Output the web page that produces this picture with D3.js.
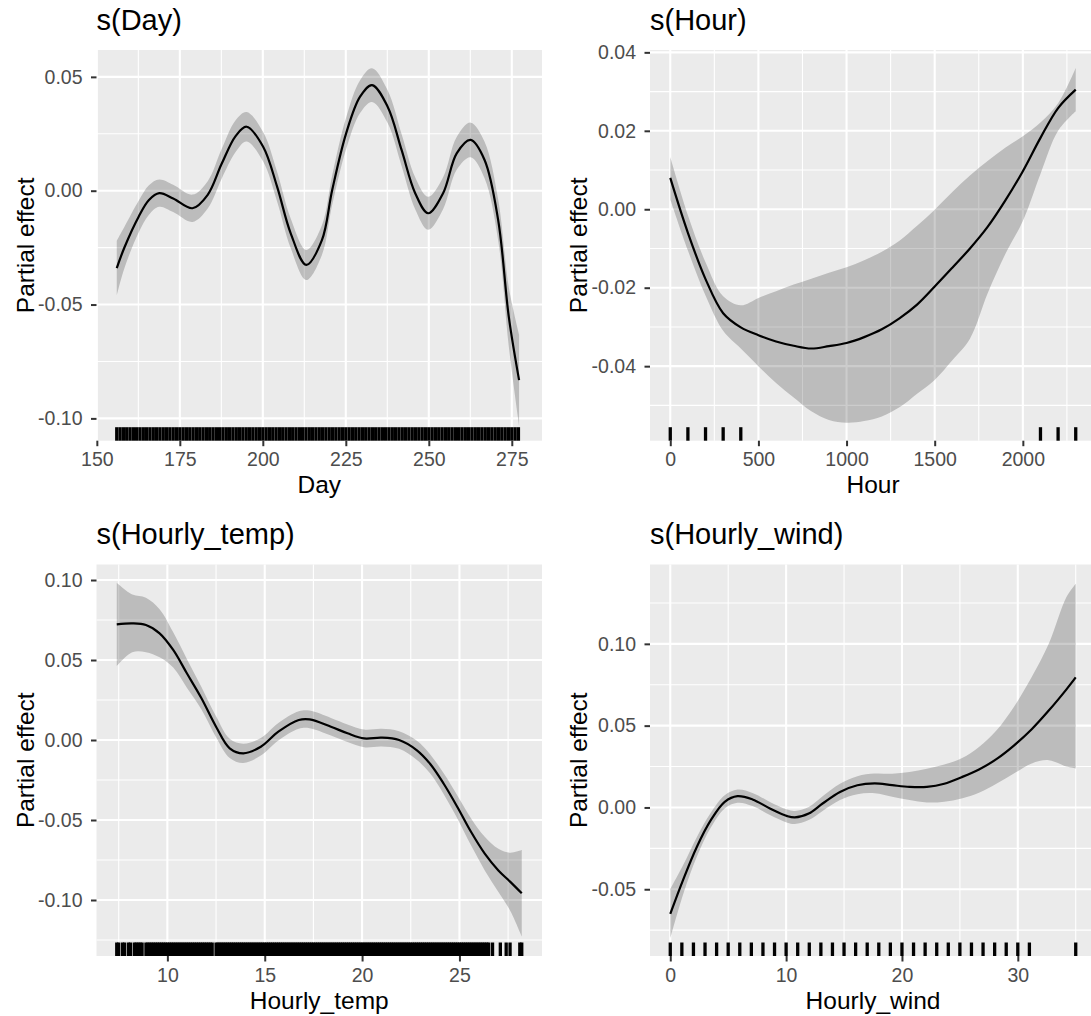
<!DOCTYPE html>
<html>
<head>
<meta charset="utf-8">
<script src="https://cdn.jsdelivr.net/npm/d3@7"></script>
<style>
  body {margin:0; background:#fff;}
  svg text {font-family: "Liberation Sans", Arial, Helvetica, sans-serif;}
</style>
</head>
<body>
<svg width="1091" height="1016"></svg>
<script>
// ---- s(Day) ----
var dayX   = [156, 158.4, 162.6, 165.7, 168.8, 173, 178.8, 183.4, 187.6, 191.8, 195.1, 200.1, 204.3, 208.4, 213.1, 217.8, 220.9, 225.1, 229.3, 232.9, 237.6, 241.8, 245.9, 249.8, 254.3, 258.4, 262.6, 266.8, 270.9, 274.1, 277.2];
var dayFit = [-0.034, -0.0246, -0.0114, -0.0041, -0.0011, -0.0034, -0.0077, -0.0018, 0.0118, 0.0240, 0.0281, 0.0193, 0.0018, -0.0187, -0.0326, -0.0217, 0.0003, 0.0252, 0.0413, 0.0464, 0.0369, 0.0179, -0.0011, -0.0099, -0.0011, 0.0164, 0.0223, 0.0135, -0.0129, -0.0554, -0.0832];
var dayCI  = [0.012, 0.009, 0.007, 0.0065, 0.006, 0.006, 0.006, 0.006, 0.0065, 0.007, 0.0065, 0.0065, 0.0065, 0.0065, 0.0066, 0.0065, 0.0065, 0.007, 0.0072, 0.0074, 0.0072, 0.007, 0.007, 0.0072, 0.007, 0.0072, 0.0076, 0.008, 0.009, 0.013, 0.02];
var dayRugRuns = [[156, 277]];
var dayXTicks = [150, 175, 200, 225, 250, 275];
var dayYTicks = [0.05, 0, -0.05, -0.10];

// ---- s(Hour) ----
var hourX     = [0, 100, 200, 300, 400, 500, 600, 700, 800, 900, 1000, 1100, 1200, 1300, 1400, 1500, 1600, 1700, 1800, 1900, 2000, 2100, 2200, 2300];
var hourFit   = [0.008, -0.006, -0.0178, -0.0265, -0.0301, -0.0321, -0.0337, -0.0348, -0.0355, -0.0349, -0.0341, -0.0326, -0.0306, -0.0278, -0.0243, -0.0197, -0.0149, -0.0100, -0.0045, 0.0022, 0.0097, 0.0182, 0.0258, 0.0305];
var hourUpper = [0.0133, -0.0015, -0.0135, -0.0222, -0.0245, -0.0226, -0.0209, -0.0192, -0.0177, -0.0162, -0.0148, -0.013, -0.0108, -0.008, -0.0042, -0.0001, 0.0044, 0.0086, 0.0123, 0.0157, 0.0186, 0.0221, 0.027, 0.036];
var hourLower = [0.0025, -0.0105, -0.022, -0.031, -0.0355, -0.040, -0.0443, -0.048, -0.0515, -0.0537, -0.0544, -0.054, -0.0528, -0.0505, -0.047, -0.0435, -0.0385, -0.033, -0.0215, -0.0115, -0.003, 0.009, 0.020, 0.025];
var hourRug = [0, 100, 200, 300, 400, 2100, 2200, 2300];
var hourXTicks = [0, 500, 1000, 1500, 2000];
var hourYTicks = [0.04, 0.02, 0, -0.02, -0.04];

// ---- s(Hourly_temp) ----
var tempX   = [7.4, 8.2, 8.9, 9.6, 10.3, 11.0, 11.75, 12.5, 13.2, 13.9, 14.8, 15.7, 16.75, 17.3, 18.4, 19.25, 20.1, 21.0, 21.9, 22.8, 23.5, 24.2, 24.9, 25.6, 26.3, 27.0, 27.6, 28.2];
var tempFit = [0.0723, 0.0729, 0.0719, 0.0667, 0.0563, 0.0417, 0.0261, 0.0083, -0.0052, -0.0083, -0.0042, 0.0052, 0.0125, 0.0129, 0.0083, 0.0042, 0.001, 0.0015, 0.0, -0.0063, -0.0150, -0.0275, -0.0420, -0.0575, -0.0710, -0.0815, -0.0885, -0.0958];
var tempCI  = [0.026, 0.018, 0.017, 0.015, 0.011, 0.009, 0.007, 0.0065, 0.006, 0.006, 0.0055, 0.0055, 0.0055, 0.0055, 0.0055, 0.0055, 0.0055, 0.0055, 0.0055, 0.006, 0.006, 0.0065, 0.0072, 0.0085, 0.0105, 0.0135, 0.018, 0.027];
var tempRugRuns = [[7.4, 7.5], [7.7, 7.8], [8.0, 8.1], [8.3, 8.7], [8.9, 12.3], [12.5, 26.5]];
var tempRugSingles = [26.7, 27.1, 27.4, 27.6, 28.1, 28.2];
var tempXTicks = [10, 15, 20, 25];
var tempYTicks = [0.10, 0.05, 0, -0.05, -0.10];

// ---- s(Hourly_wind) ----
var windX     = [0, 1.1, 2.3, 3.5, 4.7, 5.8, 7.1, 8.6, 10.1, 10.75, 11.95, 13.15, 14.65, 16.15, 17.65, 19.15, 20.65, 22.15, 23.65, 25.15, 26.65, 28.15, 29.66, 31.2, 32.67, 34.2, 35];
var windFit   = [-0.0651, -0.0444, -0.024, -0.0078, 0.0034, 0.0069, 0.0049, -0.0006, -0.0053, -0.0061, -0.0037, 0.0024, 0.0095, 0.0136, 0.0147, 0.0136, 0.0126, 0.0126, 0.0145, 0.0185, 0.0232, 0.0295, 0.0378, 0.0478, 0.0592, 0.0722, 0.0795];
var windUpper = [-0.050, -0.0354, -0.018, -0.0033, 0.0074, 0.0109, 0.0089, 0.0034, -0.0013, -0.0021, 0.0003, 0.0069, 0.0145, 0.0191, 0.0207, 0.0206, 0.0217, 0.0236, 0.0262, 0.0300, 0.0370, 0.0470, 0.0614, 0.0797, 0.1000, 0.1286, 0.1368];
var windLower = [-0.080, -0.0534, -0.030, -0.0123, -0.0006, 0.0029, 0.0009, -0.0046, -0.0093, -0.0101, -0.0077, -0.0021, 0.0045, 0.0081, 0.0087, 0.0066, 0.0045, 0.0030, 0.0035, 0.0055, 0.0090, 0.0145, 0.0207, 0.0269, 0.0289, 0.0250, 0.0238];
var windRug = [0, 1, 2, 3, 4, 5, 6, 7, 8, 9, 10, 11, 12, 13, 14, 15, 16, 17, 18, 19, 20, 21, 22, 23, 24, 25, 26, 27, 28, 29, 30, 31, 35];
var windXTicks = [0, 10, 20, 30];
var windYTicks = [0.10, 0.05, 0, -0.05];

var svg = d3.select("svg");

function rowsSym(xs, fit, ci) {
  return xs.map(function(v, i) { return {x: v, fit: fit[i], lo: fit[i] - ci[i], hi: fit[i] + ci[i]}; });
}
function rowsBand(xs, fit, lower, upper) {
  return xs.map(function(v, i) { return {x: v, fit: fit[i], lo: lower[i], hi: upper[i]}; });
}
function expandRuns(runs, step) {
  var out = [];
  runs.forEach(function(r) {
    for (var k = 0; r[0] + k * step <= r[1] + step / 2; k++) out.push(+(r[0] + k * step).toFixed(3));
  });
  return out;
}
function minorOf(ticks, domain) {
  var step = Math.abs(ticks[1] - ticks[0]);
  var lo = d3.min(ticks), hi = d3.max(ticks), out = [];
  for (var v = lo - step / 2; v <= hi + step / 2 + 1e-9; v += step) {
    if (v >= Math.min(domain[0], domain[1]) && v <= Math.max(domain[0], domain[1])) out.push(v);
  }
  return out;
}

var panels = [
  {title: "s(Day)", xlab: "Day", left: 96.5, top: 50, width: 445.5, height: 390.7,
   xDomain: [149.9, 284.1], yDomain: [-0.1098, 0.0618],
   xTicks: dayXTicks, yTicks: dayYTicks,
   rows: rowsSym(dayX, dayFit, dayCI), rug: expandRuns(dayRugRuns, 1)},
  {title: "s(Hour)", xlab: "Hour", left: 650, top: 50, width: 446, height: 390.7,
   xDomain: [-115, 2415], yDomain: [-0.059, 0.0406],
   xTicks: hourXTicks, yTicks: hourYTicks,
   rows: rowsBand(hourX, hourFit, hourLower, hourUpper), rug: hourRug},
  {title: "s(Hourly_temp)", xlab: "Hourly_temp", left: 96.5, top: 564.5, width: 445.5, height: 391.5,
   xDomain: [6.36, 29.24], yDomain: [-0.135, 0.1097],
   xTicks: tempXTicks, yTicks: tempYTicks,
   rows: rowsSym(tempX, tempFit, tempCI), rug: expandRuns(tempRugRuns, 0.1).concat(tempRugSingles)},
  {title: "s(Hourly_wind)", xlab: "Hourly_wind", left: 650, top: 564.5, width: 446, height: 391.5,
   xDomain: [-1.75, 36.75], yDomain: [-0.0908, 0.1485],
   xTicks: windXTicks, yTicks: windYTicks,
   rows: rowsBand(windX, windFit, windLower, windUpper), rug: windRug}
];

panels.forEach(function(p) {
  var bottom = p.top + p.height, right = p.left + p.width;
  var x = d3.scaleLinear().domain(p.xDomain).range([p.left, right]);
  var y = d3.scaleLinear().domain(p.yDomain).range([bottom, p.top]);
  var g = svg.append("g");

  g.append("rect").attr("x", p.left).attr("y", p.top)
    .attr("width", p.width).attr("height", p.height).attr("fill", "#EBEBEB");

  // minor grid
  g.selectAll(".mx").data(minorOf(p.xTicks, p.xDomain)).enter().append("line")
    .attr("x1", x).attr("x2", x).attr("y1", p.top).attr("y2", bottom)
    .attr("stroke", "#fff").attr("stroke-width", 1.1);
  g.selectAll(".my").data(minorOf(p.yTicks, p.yDomain)).enter().append("line")
    .attr("y1", y).attr("y2", y).attr("x1", p.left).attr("x2", right)
    .attr("stroke", "#fff").attr("stroke-width", 1.1);
  // major grid
  g.selectAll(".gx").data(p.xTicks).enter().append("line")
    .attr("x1", x).attr("x2", x).attr("y1", p.top).attr("y2", bottom)
    .attr("stroke", "#fff").attr("stroke-width", 2.1);
  g.selectAll(".gy").data(p.yTicks).enter().append("line")
    .attr("y1", y).attr("y2", y).attr("x1", p.left).attr("x2", right)
    .attr("stroke", "#fff").attr("stroke-width", 2.1);

  // confidence band + smooth
  g.append("path").datum(p.rows)
    .attr("d", d3.area().x(function(d) { return x(d.x); })
      .y0(function(d) { return y(d.lo); }).y1(function(d) { return y(d.hi); })
      .curve(d3.curveCatmullRom.alpha(0.5)))
    .attr("fill", "#000").attr("fill-opacity", 0.2);
  g.append("path").datum(p.rows)
    .attr("d", d3.line().x(function(d) { return x(d.x); }).y(function(d) { return y(d.fit); })
      .curve(d3.curveCatmullRom.alpha(0.5)))
    .attr("fill", "none").attr("stroke", "#000").attr("stroke-width", 2.2);

  // rug
  g.selectAll(".rug").data(p.rug).enter().append("line")
    .attr("x1", x).attr("x2", x).attr("y1", bottom - 13.5).attr("y2", bottom)
    .attr("stroke", "#000").attr("stroke-width", 3.3);

  // axes
  var ya = g.append("g").attr("transform", "translate(" + p.left + ",0)")
    .call(d3.axisLeft(y).tickValues(p.yTicks).tickSize(5.5).tickPadding(8.5)
      .tickFormat(function(v) { return v.toFixed(2); }));
  var xa = g.append("g").attr("transform", "translate(0," + bottom + ")")
    .call(d3.axisBottom(x).tickValues(p.xTicks).tickSize(5.5).tickPadding(6.3)
      .tickFormat(function(v) { return String(v); }));
  [ya, xa].forEach(function(a) {
    a.select(".domain").remove();
    a.selectAll(".tick line").attr("stroke", "#333333").attr("stroke-width", 2);
    a.selectAll(".tick text").attr("fill", "#4D4D4D").style("font-size", "19.5px")
      .style("font-family", "'Liberation Sans', Arial, sans-serif");
  });

  // titles
  g.append("text").attr("x", p.left).attr("y", p.top - 20.5)
    .style("font-size", "29px").attr("fill", "#000").text(p.title);
  g.append("text").attr("x", p.left + p.width / 2).attr("y", bottom + 52.5)
    .attr("text-anchor", "middle").style("font-size", "24.5px").attr("fill", "#000").text(p.xlab);
  g.append("text").attr("transform", "translate(" + (p.left - 63) + "," + (p.top + p.height / 2) + ") rotate(-90)")
    .attr("text-anchor", "middle").style("font-size", "24.5px").attr("fill", "#000").text("Partial effect");
});
</script>
</body>
</html>
